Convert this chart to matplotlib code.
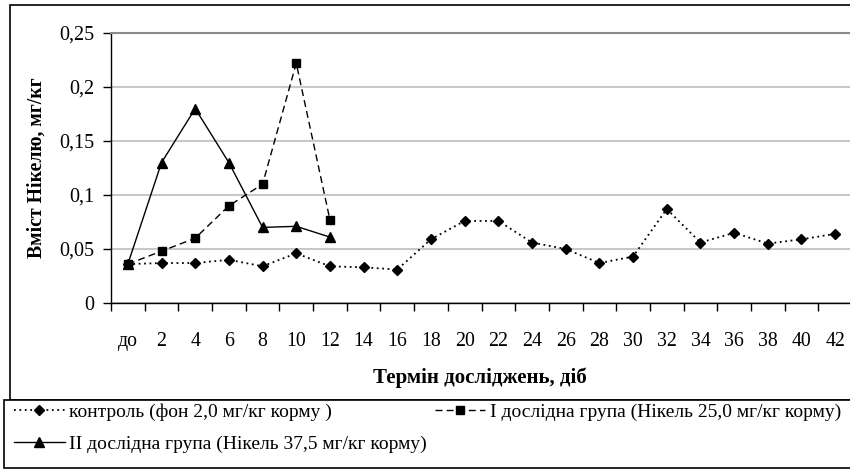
import numpy as np
import matplotlib
matplotlib.use("Agg")
import matplotlib.pyplot as plt
from matplotlib.patches import Rectangle

# categories on the x axis (day of the study)
days = ["до", "2", "4", "6", "8", "10", "12", "14", "16", "18", "20",
        "22", "24", "26", "28", "30", "32", "34", "36", "38", "40", "42"]

# Nickel content, mg/kg
control = [0.036, 0.037, 0.037, 0.040, 0.034, 0.046, 0.034, 0.033, 0.031,
           0.059, 0.076, 0.076, 0.056, 0.050, 0.037, 0.043, 0.087, 0.056,
           0.065, 0.055, 0.059, 0.064]
group_1 = [0.036, 0.048, 0.060, 0.090, 0.110, 0.222, 0.077]
group_2 = [0.036, 0.130, 0.180, 0.130, 0.070, 0.071, 0.061]

y_ticks = [0, 0.05, 0.1, 0.15, 0.2, 0.25]
y_tick_labels = ["0", "0,05", "0,1", "0,15", "0,2", "0,25"]

labels = ["контроль (фон 2,0 мг/кг корму )",
          "І дослідна група (Нікель 25,0 мг/кг корму)",
          "ІІ дослідна група (Нікель 37,5 мг/кг корму)"]

plt.rcParams["font.family"] = ["Liberation Serif", "DejaVu Serif"]
plt.rcParams["font.size"] = 14

W, H = 850, 470
fig = plt.figure(figsize=(8.5, 4.7), dpi=100)
ax = fig.add_axes([111 / W, 1 - 303 / H, 741 / W, 270 / H])

x = np.arange(len(days))
l_ctrl, = ax.plot(x, control, color="black", linestyle=(0, (1, 2)), lw=1.3,
                  marker="D", markersize=5, label=labels[0])
l_g1, = ax.plot(x[:len(group_1)], group_1, color="black", linestyle=(0, (5, 3)),
                lw=1.0, marker="s", markersize=6, label=labels[1])
l_g2, = ax.plot(x[:len(group_2)], group_2, color="black", linestyle="-",
                lw=1.0, marker="^", markersize=7, label=labels[2])

ax.set_xlim(-0.5, len(days) - 0.5)
ax.set_ylim(0, 0.25)
ax.set_yticks(y_ticks)
ax.set_yticklabels(y_tick_labels, fontsize=14.5)
ax.set_xticks(x)
ax.set_xticklabels(days, fontsize=14.3)
ax.set_xticks(np.arange(-0.5, len(days), 1), minor=True)
ax.tick_params(axis="x", which="major", length=0, pad=21)
ax.tick_params(axis="x", which="minor", length=6, direction="out", width=1)
ax.tick_params(axis="y", length=6, direction="out", width=1, pad=6)

ax.grid(axis="y", color="#c8c8c8", lw=1.5)
ax.set_axisbelow(True)
for s in ["left", "bottom"]:
    ax.spines[s].set_color("black")
    ax.spines[s].set_linewidth(1.0)
ax.spines["top"].set_color("#8a8a8a")
ax.spines["top"].set_linewidth(1.5)
ax.spines["right"].set_visible(False)

fig.text(37 / W, 1 - 168 / H, "Вміст Нікелю, мг/кг", rotation=90,
         ha="center", va="center", fontsize=14.2, fontweight="bold")
fig.text(480 / W, 1 - 378 / H, "Термін досліджень, діб",
         ha="center", va="center", fontsize=15, fontweight="bold")

# outer chart frame and legend box
fig.patches.append(Rectangle((10 / W, 1 - 400 / H), 1.0, 395 / H,
                             transform=fig.transFigure, fill=False,
                             edgecolor="black", lw=1.2))
fig.patches.append(Rectangle((4 / W, 1 - 468 / H), 1.0, 68 / H,
                             transform=fig.transFigure, facecolor="white",
                             edgecolor="black", lw=1.2, zorder=2))

leg = fig.legend([l_ctrl, l_g2, l_g1], [labels[0], labels[2], labels[1]],
                 ncol=2, loc="upper left", bbox_to_anchor=(14 / W, 1 - 403 / H),
                 frameon=False, fontsize=14, handlelength=2.6,
                 handletextpad=0.25, columnspacing=0.4, labelspacing=0.75,
                 borderaxespad=0, borderpad=0)
leg.set_zorder(3)

fig.savefig("out.png", dpi=100)
